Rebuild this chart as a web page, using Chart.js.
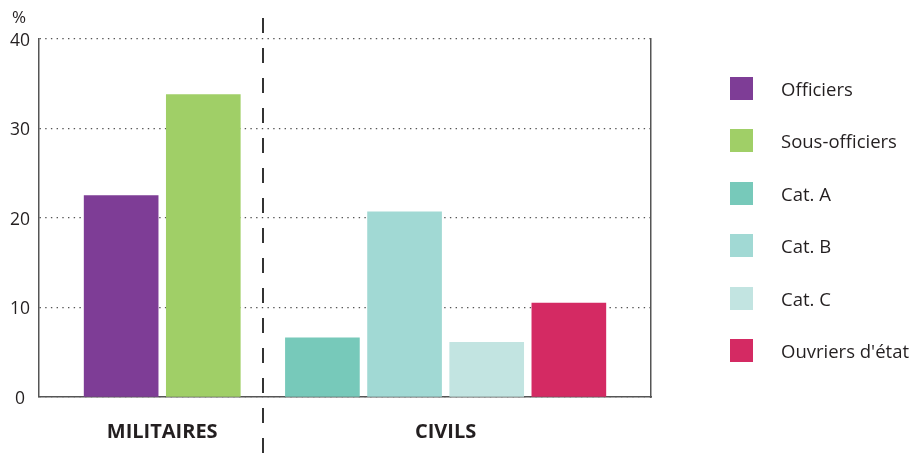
<!DOCTYPE html>
<html lang="fr">
<head>
<meta charset="utf-8">
<title>Militaires et civils</title>
<script src="https://cdn.jsdelivr.net/npm/chart.js@4.4.0/dist/chart.umd.min.js"></script>
<style>
  html, body { margin: 0; padding: 0; background: #fff; }
  .wrap { position: relative; width: 912px; height: 457px; font-family: "Open Sans", sans-serif; color: #231f20; }
  canvas { position: absolute; left: 0; top: 0; }
  .unit { position: absolute; left: 12px; top: 7px; font-size: 17px; line-height: 20px; }
  .legend { position: absolute; left: 730px; top: 77px; margin: 0; padding: 0; list-style: none; }
  .legend li { height: 23px; margin-bottom: 29.4px; display: flex; align-items: center; font-size: 18.5px; white-space: nowrap; }
  .legend .box { width: 23px; height: 23px; margin-right: 28px; flex: none; }
</style>
</head>
<body>
<div class="wrap">
  <canvas id="chart" width="912" height="457"></canvas>
  <div class="unit">%</div>
  <ul class="legend" id="legend"></ul>
</div>
<script>
(function () {
  "use strict";

  const groups = ["MILITAIRES", "CIVILS"];
  const categories = ["Officiers", "Sous-officiers", "Cat. A", "Cat. B", "Cat. C", "Ouvriers d'état"];
  const categoryGroup = [0, 0, 1, 1, 1, 1];
  const shares = [22.5, 33.8, 6.6, 20.7, 6.1, 10.5];
  const yTicks = [0, 10, 20, 30, 40];
  const colors = ["#7e3d96", "#a0cf67", "#77c9ba", "#a1d9d4", "#c2e4e1", "#d42a63"];

  const palette = {
    text: "#231f20",
    axis: "#555555",
    divider: "#333333"
  };

  // extra room between the two blocks, counted in bar slots
  const groupGap = 0.45;
  const slots = categories.map((c, i) => i + categoryGroup[i] * groupGap);
  const groupCenters = groups.map((g, gi) => {
    const xs = slots.filter((s, i) => categoryGroup[i] === gi);
    return xs.reduce((a, b) => a + b, 0) / xs.length;
  });
  const lastMil = categoryGroup.lastIndexOf(0);
  const dividerAt = (slots[lastMil] + slots[lastMil + 1]) / 2;

  const legend = document.getElementById("legend");
  legend.innerHTML = categories
    .map((c, i) => `<li><span class="box" style="background:${colors[i]}"></span>${c}</li>`)
    .join("");

  const dividerLine = {
    id: "dividerLine",
    afterDraw(chart) {
      const x = Math.round(chart.scales.x.getPixelForValue(dividerAt));
      const ctx = chart.ctx;
      ctx.save();
      ctx.strokeStyle = palette.divider;
      ctx.lineWidth = 2;
      ctx.setLineDash([15, 15]);
      ctx.beginPath();
      ctx.moveTo(x, 18);
      ctx.lineTo(x, chart.height);
      ctx.stroke();
      ctx.restore();
    }
  };

  Chart.defaults.font.family = "\"Open Sans\", sans-serif";
  Chart.defaults.color = palette.text;
  Chart.defaults.animation = false;

  new Chart(document.getElementById("chart"), {
    type: "bar",
    data: {
      datasets: [{
        label: "%",
        data: shares.map((v, i) => ({ x: slots[i], y: v })),
        backgroundColor: colors,
        borderWidth: 0,
        barThickness: 74
      }]
    },
    options: {
      responsive: false,
      layout: { padding: { top: 39, right: 261, bottom: 0, left: 0 } },
      plugins: { legend: { display: false }, tooltip: { enabled: false } },
      scales: {
        x: {
          type: "linear",
          offset: false,
          min: -1,
          max: slots[slots.length - 1] + 1,
          afterBuildTicks: s => { s.ticks = groupCenters.map(v => ({ value: v })); },
          afterFit: s => { s.height = 60; },
          grid: { display: false, drawTicks: false, offset: false },
          border: { display: true, color: palette.axis, width: 1.5 },
          ticks: {
            autoSkip: false,
            maxRotation: 0,
            padding: 23,
            color: palette.text,
            font: { size: 20, weight: "bold" },
            callback: (v, i) => groups[i]
          }
        },
        y: {
          min: 0,
          max: 40,
          afterBuildTicks: s => { s.ticks = yTicks.map(v => ({ value: v })); },
          afterFit: s => { s.width = 39; },
          grid: { color: palette.axis, lineWidth: 1.3, drawTicks: false },
          border: { display: true, color: palette.axis, width: 1.5, dash: [1.4, 4.3] },
          ticks: {
            crossAlign: "center",
            padding: 9,
            labelOffset: 2,
            color: palette.text,
            font: { size: 17.5 }
          }
        },
        y2: {
          position: "right",
          min: 0,
          max: 40,
          afterFit: s => { s.width = 0; },
          grid: { display: false, drawTicks: false },
          border: { display: true, color: palette.axis, width: 1.5 },
          ticks: { display: false }
        }
      }
    },
    plugins: [dividerLine]
  });
})();
</script>
</body>
</html>
